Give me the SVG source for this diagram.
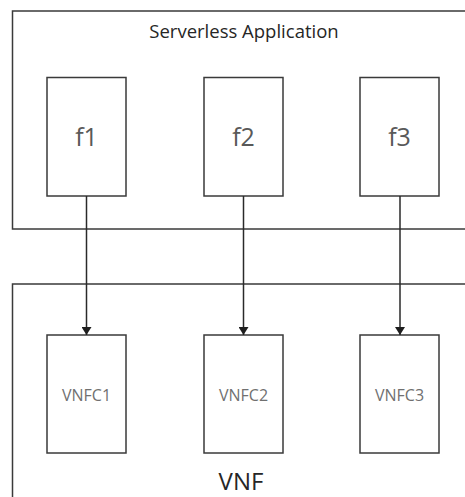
<svg xmlns="http://www.w3.org/2000/svg" width="465" height="497" viewBox="0 0 465 497">
  <style>
    .frame { fill: none; stroke: #3a3a3a; stroke-width: 1.5; }
    .box { fill: #ffffff; stroke: #3a3a3a; stroke-width: 1.5; }
    .title { font-family: "Open Sans", "Noto Sans", sans-serif; fill: #262626; text-anchor: middle; }
    .fn { font-family: "Open Sans", "Noto Sans", sans-serif; font-size: 25px; fill: #595959; text-anchor: middle; }
    .vnfc { font-family: "Open Sans", "Noto Sans", sans-serif; font-size: 16px; fill: #707070; text-anchor: middle; }
    .link { stroke: #2a2a2a; stroke-width: 1.5; fill: none; marker-end: url(#arrow); }
  </style>
  <defs>
    <marker id="arrow" viewBox="0 0 8 10" refX="8" refY="5" markerWidth="8" markerHeight="10" markerUnits="userSpaceOnUse" orient="auto">
      <path d="M0,0 L8,5 L0,10 Z" fill="#1e1e1e"/>
    </marker>
  </defs>
  <rect width="465" height="497" fill="#ffffff"/>

  <!-- Serverless application container -->
  <g id="serverless-app">
    <rect class="frame" x="12.5" y="11" width="470" height="218"/>
    <text class="title" x="244" y="38" font-size="18.5">Serverless Application</text>
  </g>

  <!-- VNF container -->
  <g id="vnf">
    <rect class="frame" x="12.5" y="284" width="470" height="230"/>
    <text class="title" x="241" y="490" font-size="24">VNF</text>
  </g>

  <!-- functions -->
  <g id="f1">
    <rect class="box" x="47" y="77.5" width="79" height="118.5"/>
    <text class="fn" x="86.5" y="146">f1</text>
  </g>
  <g id="f2">
    <rect class="box" x="204" y="77.5" width="79" height="118.5"/>
    <text class="fn" x="243.5" y="146">f2</text>
  </g>
  <g id="f3">
    <rect class="box" x="360" y="77.5" width="79" height="118.5"/>
    <text class="fn" x="399.5" y="146">f3</text>
  </g>

  <!-- VNF components -->
  <g id="vnfc1">
    <rect class="box" x="47" y="335" width="79" height="118"/>
    <text class="vnfc" x="86.5" y="401">VNFC1</text>
  </g>
  <g id="vnfc2">
    <rect class="box" x="204" y="335" width="79" height="118"/>
    <text class="vnfc" x="243.5" y="401">VNFC2</text>
  </g>
  <g id="vnfc3">
    <rect class="box" x="360" y="335" width="79" height="118"/>
    <text class="vnfc" x="399.5" y="401">VNFC3</text>
  </g>

  <!-- invocations -->
  <g id="connectors">
    <line class="link" x1="86.5" y1="196" x2="86.5" y2="335"/>
    <line class="link" x1="243.5" y1="196" x2="243.5" y2="335"/>
    <line class="link" x1="400" y1="196" x2="400" y2="335"/>
  </g>
</svg>
